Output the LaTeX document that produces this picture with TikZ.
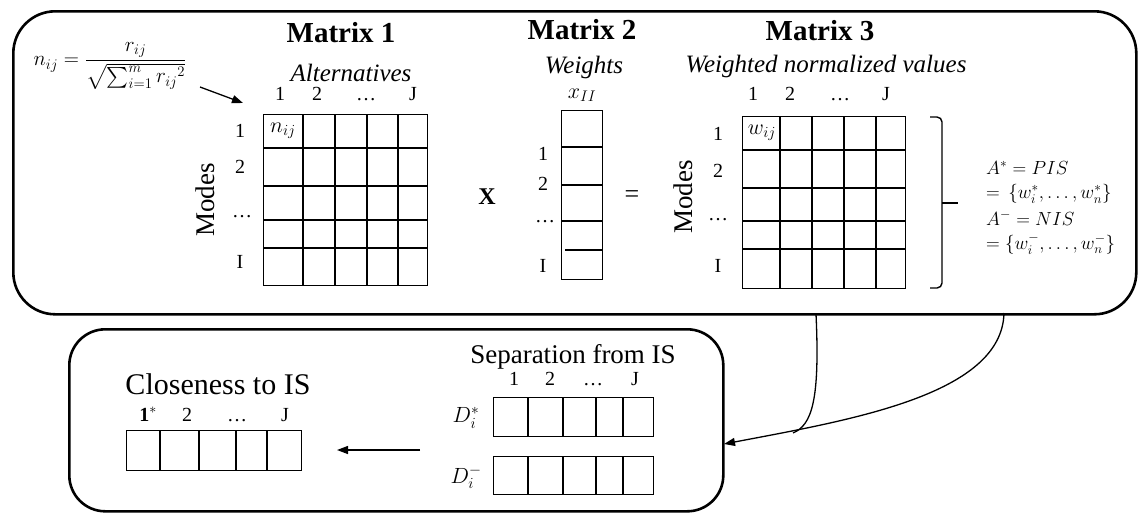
\RequirePackage{fix-cm}
\documentclass[tikz,border=0pt]{standalone}
\usepackage{amsmath}
\usepackage{fontspec}
\setmainfont{Liberation Serif}
\usetikzlibrary{arrows.meta}
\tikzset{
  bigbox/.style={draw, line width=2.6pt, rounded corners=42pt, inner sep=0pt},
  smallbox/.style={draw, line width=2.6pt, rounded corners=36pt, inner sep=0pt},
  gridbox/.style={draw, line width=1.4pt, inner sep=0pt, anchor=north west},
  gl/.style={line width=1.4pt},
  ttl/.style={font=\bfseries\fontsize{29}{29}\selectfont, anchor=base, inner sep=0pt},
  sub/.style={font=\itshape\fontsize{25}{25}\selectfont, anchor=base, inner sep=0pt},
  lbl/.style={font=\fontsize{20}{20}\selectfont, anchor=base, inner sep=0pt},
  big/.style={font=\fontsize{27}{27}\selectfont, anchor=base, inner sep=0pt},
  mth/.style={font=\fontsize{22}{22}\selectfont, inner sep=0pt},
  side/.style={font=\fontsize{19}{19}\selectfont, inner sep=0pt, anchor=west},
  conn/.style={line width=1.3pt},
  tip/.style={-{Triangle[length=11pt,width=8pt]}}
}
\begin{document}
\begin{tikzpicture}[x=1pt,y=-1pt]
\useasboundingbox (0,0) rectangle (1140,512);
% outer boxes
\node[bigbox, minimum width=1123pt, minimum height=303pt, anchor=north west] (top) at (12,10) {};
\node[smallbox, minimum width=654pt, minimum height=182pt, anchor=north west] (bot) at (68,328) {};

% formula
\node[mth, font=\fontsize{21}{21}\selectfont] (f) at (110,66) {$n_{ij}=\dfrac{r_{ij}}{\sqrt{\sum_{i=1}^{m}{r_{ij}}^{2}}}$};

% ---------- Matrix 1
\node[ttl] (t1) at (341,42) {Matrix 1};
\node[sub] (s1) at (351,81) {Alternatives};
\node[gridbox, minimum width=164pt, minimum height=171pt] (m1) at (263,114) {};
\foreach \x in {303,335,367,398} \draw[gl] (\x,114) -- (\x,285);
\foreach \y in {148,186,220,248} \draw[gl] (263,\y) -- (427,\y);
\node[lbl] at (280,100) {1};
\node[lbl] at (317,100) {2};
\node[lbl] at (366,100) {\dots};
\node[lbl] at (413,100) {J};
\node[lbl] at (240,137) {1};
\node[lbl] at (240,173) {2};
\node[lbl] at (242,217) {\dots};
\node[lbl] at (240,268) {I};
\node[big, rotate=90, anchor=center] at (205,200) {Modes};
\node[mth] at (283,131) {$n_{ij}$};
\coordinate (fa) at (200,87);
\coordinate (fb) at (243,103);
\draw[conn, tip] (fa) -- (fb);

% ---------- Matrix 2
\node[ttl] (t2) at (582,39) {Matrix 2};
\node[sub] (s2) at (584,73) {Weights};
\node[mth] at (582,95) {$x_{II}$};
\node[gridbox, minimum width=41pt, minimum height=169pt] (m2) at (561,110) {};
\foreach \y in {147,185,221} \draw[gl] (561,\y) -- (602,\y);
\draw[gl] (565,250) -- (603,250);
\node[lbl] at (543,160) {1};
\node[lbl] at (543,190) {2};
\node[lbl] at (545,222) {\dots};
\node[lbl] at (543,272) {I};
\node[font=\bfseries\fontsize{24}{24}\selectfont] at (487,197) {X};
\node[font=\fontsize{26}{26}\selectfont] at (632,197) {=};

% ---------- Matrix 3
\node[ttl] (t3) at (820,40) {Matrix 3};
\node[sub] (s3) at (826,72) {Weighted normalized values};
\node[gridbox, minimum width=163pt, minimum height=172pt] (m3) at (742,116) {};
\foreach \x in {780,812,844,876} \draw[gl] (\x,116) -- (\x,288);
\foreach \y in {150,188,221,249} \draw[gl] (742,\y) -- (905,\y);
\node[lbl] at (753,100) {1};
\node[lbl] at (790,100) {2};
\node[lbl] at (840,100) {\dots};
\node[lbl] at (886,100) {J};
\node[lbl] at (718,140) {1};
\node[lbl] at (718,177) {2};
\node[lbl] at (718,220) {\dots};
\node[lbl] at (718,272) {I};
\node[big, rotate=90, anchor=center] at (683,197) {Modes};
\node[mth] at (762,133) {$w_{ij}$};

% brace
\draw[line width=1.4pt] (930,117) -- (937,117) to[out=0,in=90] (942,122) -- (942,283) to[out=-90,in=0] (937,288) -- (930,288);
\draw[line width=1.4pt] (942,203) -- (958,203);
\node[side] at (986,168) {$A^{*}=PIS$};
\node[side] at (986,194) {$=\,\{w_i^{*},\dots,w_n^{*}\}$};
\node[side] at (986,218) {$A^{-}=NIS$};
\node[side] at (986,244) {$=\{w_i^{-},\dots,w_n^{-}\}$};

% ---------- Separation from IS
\node[big] (sep) at (573,363) {Separation from IS};
\node[lbl] at (514,385) {1};
\node[lbl] at (550,385) {2};
\node[lbl] at (593,385) {\dots};
\node[lbl] at (635,385) {J};
\node[gridbox, minimum width=160pt, minimum height=39pt] (dp) at (493,397) {};
\node[gridbox, minimum width=160pt, minimum height=38pt] (dm) at (493,456) {};
\foreach \x in {528,563,596,623} {
  \draw[gl] (\x,397) -- (\x,436);
  \draw[gl] (\x,456) -- (\x,494);
}
\node[mth] at (466,418) {$D_i^{*}$};
\node[mth] at (466,477) {$D_i^{-}$};

% ---------- Closeness to IS
\node[big, font=\fontsize{30}{30}\selectfont] (clo) at (218,394) {Closeness to IS};
\node[lbl] at (148,421) {\textbf{1}$^{*}$};
\node[lbl] at (187,421) {2};
\node[lbl] at (237,421) {\dots};
\node[lbl] at (285,421) {J};
\node[gridbox, minimum width=175pt, minimum height=40pt] (cl) at (126,430) {};
\foreach \x in {160,199,236,267} \draw[gl] (\x,430) -- (\x,470);

% arrows
\coordinate (aS) at (420,450);
\coordinate (aE) at (337,450);
\draw[conn, tip] (aS) -- (aE);
\coordinate (c1) at (816,314);
\coordinate (c2) at (1004,313);
\coordinate (jn) at (793,433);
\coordinate (tg) at (724,444);
\draw[conn, tip] (c2) .. controls (1002,395) and (850,420) .. (tg);
\draw[conn] (c1) .. controls (820,400) and (812,425) .. (jn);
\end{tikzpicture}
\end{document}
